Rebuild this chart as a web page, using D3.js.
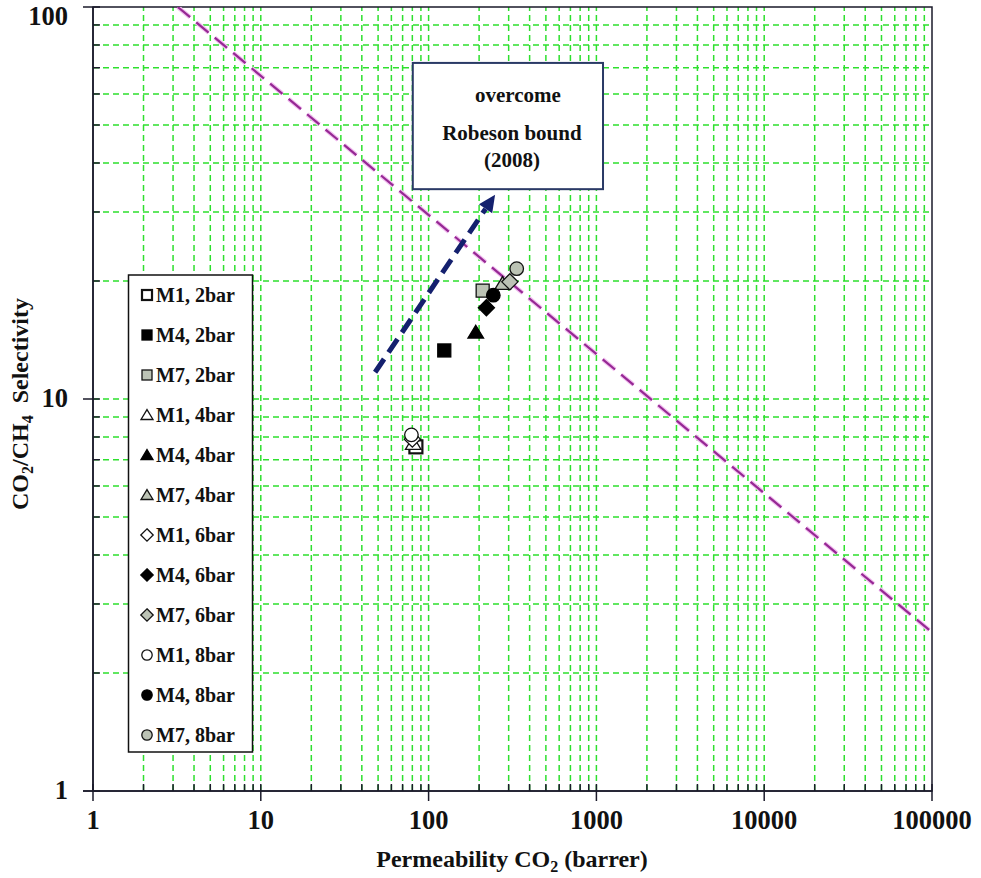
<!DOCTYPE html>
<html><head><meta charset="utf-8">
<script src="https://cdn.jsdelivr.net/npm/d3@7"></script>
<style>
html,body{margin:0;padding:0;background:#fff;}
text{font-family:"Liberation Serif","Times New Roman",serif;font-weight:bold;fill:#111;}
</style></head>
<body>
<svg id="c" width="981" height="878"></svg>
<script>
// ---- data ----
const seriesNames = ["M1, 2bar","M4, 2bar","M7, 2bar","M1, 4bar","M4, 4bar","M7, 4bar","M1, 6bar","M4, 6bar","M7, 6bar","M1, 8bar","M4, 8bar","M7, 8bar"];
const seriesShapes = ["square","square","square","triangle","triangle","triangle","diamond","diamond","diamond","circle","circle","circle"];
const seriesFills = ["open","black","gray","open","black","gray","open","black","gray","open","black","gray"];
const permeability = [84, 124, 210, 81, 191, 276, 80, 221, 305, 79, 243, 335];
const selectivity = [7.55, 13.3, 18.9, 7.7, 14.8, 19.7, 7.9, 17.1, 19.9, 8.1, 18.4, 21.5];
const robesonP = [3.2, 100000];
const robesonS = [100, 2.54];
const arrowP = [48, 249];
const arrowS = [11.7, 33.2];
const xTicks = [1, 10, 100, 1000, 10000, 100000];
const yTicks = [1, 10, 100];
const boxP = [80.5, 1095];
const boxS = [72, 34.3];
const boxLines = ["overcome", "Robeson bound", "(2008)"];

const svg = d3.select("#c");
const L = 93, R = 932, T = 7, B = 791;
const x = d3.scaleLog().domain([1, 1e5]).range([L, R]);
const y = d3.scaleLog().domain([1, 100]).range([B, T]);

// grid
const xMinor = [], yMinor = [];
for (let d = 1; d < 1e5; d *= 10) for (let k = 1; k <= 9; k++) xMinor.push(d * k);
for (let d = 1; d < 100; d *= 10) for (let k = 1; k <= 9; k++) yMinor.push(d * k);
const grid = svg.append("g").attr("stroke", "#2ee02e").attr("stroke-width", 1.5).attr("stroke-dasharray", "6,4");
grid.selectAll(".gx").data(xMinor.filter(v => v > 1)).join("line")
  .attr("x1", d => x(d)).attr("x2", d => x(d)).attr("y1", B).attr("y2", T);
grid.selectAll(".gy").data(yMinor.filter(v => v > 1)).join("line")
  .attr("y1", d => y(d)).attr("y2", d => y(d)).attr("x1", L).attr("x2", R);

// frame
svg.append("rect").attr("x", L).attr("y", T).attr("width", R - L).attr("height", B - T)
  .attr("fill", "none").attr("stroke", "#1a1a2a").attr("stroke-width", 1.5);

// axes
const gx = svg.append("g");
gx.selectAll("line").data(xMinor.concat([1e5])).join("line")
  .attr("x1", d => x(d)).attr("x2", d => x(d))
  .attr("y1", d => xTicks.includes(d) ? B + 10 : B)
  .attr("y2", B - 7)
  .attr("stroke", "#1a1a2a").attr("stroke-width", 1.5);
svg.append("line").attr("x1", L - 10).attr("x2", R).attr("y1", B).attr("y2", B).attr("stroke", "#1a1a2a").attr("stroke-width", 1.5);
gx.selectAll("text").data(xTicks).join("text")
  .attr("x", d => x(d)).attr("y", 829).attr("text-anchor", "middle")
  .attr("font-size", 26.5).text(d => d3.format("d")(d));

const gy = svg.append("g");
gy.selectAll("line").data(yMinor.concat([100])).join("line")
  .attr("y1", d => y(d)).attr("y2", d => y(d))
  .attr("x1", d => yTicks.includes(d) ? L - 10 : L)
  .attr("x2", L + 7)
  .attr("stroke", "#1a1a2a").attr("stroke-width", 1.5);
svg.append("line").attr("x1", L).attr("x2", L).attr("y1", T).attr("y2", B).attr("stroke", "#1a1a2a").attr("stroke-width", 1.5);
gy.selectAll("text").data(yTicks).join("text")
  .attr("x", 68).attr("y", d => Math.max(y(d) + 8, 25)).attr("text-anchor", "end")
  .attr("font-size", 26.5).text(d => d);

// axis titles
const xt = svg.append("text").attr("x", 512).attr("y", 867).attr("text-anchor", "middle").attr("font-size", 24);
xt.append("tspan").text("Permeability CO");
xt.append("tspan").attr("font-size", 16).attr("dy", 5).text("2");
xt.append("tspan").attr("dy", -5).text(" (barrer)");

const yt = svg.append("text").attr("transform", "translate(28,404) rotate(-90)").attr("text-anchor", "middle").attr("font-size", 24);
yt.append("tspan").text("CO");
yt.append("tspan").attr("font-size", 16).attr("dy", 5).text("2");
yt.append("tspan").attr("dy", -5).text("/CH");
yt.append("tspan").attr("font-size", 16).attr("dy", 5).text("4");
yt.append("tspan").attr("dy", -5).text("\u00a0\u00a0Selectivity");

// clip
svg.append("clipPath").attr("id", "pc").append("rect").attr("x", L).attr("y", T).attr("width", R - L).attr("height", B - T);

// Robeson line
const rl = d3.line().x(d => x(d[0])).y(d => y(d[1]));
svg.append("path").attr("clip-path", "url(#pc)")
  .attr("d", rl(d3.zip(robesonP, robesonS)))
  .attr("stroke", "#f2c0f0").attr("stroke-width", 4.5).attr("fill", "none").attr("stroke-dasharray", "16,8");
svg.append("path").attr("clip-path", "url(#pc)")
  .attr("d", rl(d3.zip(robesonP, robesonS)))
  .attr("stroke", "#962894").attr("stroke-width", 2.2).attr("fill", "none").attr("stroke-dasharray", "16,8");

// arrow
const ax0 = x(arrowP[0]), ay0 = y(arrowS[0]), ax1 = x(arrowP[1]), ay1 = y(arrowS[1]);
const ang = Math.atan2(ay1 - ay0, ax1 - ax0);
const hl = 17, hw = 8;
const bx = ax1 - hl * Math.cos(ang), by = ay1 - hl * Math.sin(ang);
svg.append("line").attr("x1", ax0).attr("y1", ay0).attr("x2", bx).attr("y2", by)
  .attr("stroke", "#14206e").attr("stroke-width", 5).attr("stroke-dasharray", "16,8");
svg.append("path").attr("d", `M${ax1},${ay1} L${bx - hw * Math.sin(ang)},${by + hw * Math.cos(ang)} L${bx + hw * Math.sin(ang)},${by - hw * Math.cos(ang)} Z`)
  .attr("fill", "#14206e");

// annotation box
const bx0 = x(boxP[0]), bx1 = x(boxP[1]), by0 = y(boxS[0]), by1 = y(boxS[1]);
svg.append("rect").attr("x", bx0).attr("y", by0).attr("width", bx1 - bx0).attr("height", by1 - by0)
  .attr("fill", "#fff").attr("stroke", "#2a3a66").attr("stroke-width", 2);
const bcx = (bx0 + bx1) / 2 + 4;
svg.append("text").attr("x", bcx + 6).attr("y", by0 + 39).attr("text-anchor", "middle").attr("font-size", 21).text(boxLines[0]);
svg.append("text").attr("x", bcx).attr("y", by0 + 77).attr("text-anchor", "middle").attr("font-size", 21).text(boxLines[1]);
svg.append("text").attr("x", bcx).attr("y", by0 + 104).attr("text-anchor", "middle").attr("font-size", 21).text(boxLines[2]);

// markers
const grayFill = "#bcc3b5";
function fillOf(f) { return f === "open" ? "#fff" : f === "black" ? "#000" : grayFill; }
function drawMarker(g, shape, fill, s) {
  const fc = fillOf(fill);
  const st = fill === "black" ? "#000" : "#111";
  if (shape === "square") {
    g.append("rect").attr("x", -s / 2).attr("y", -s / 2).attr("width", s).attr("height", s)
      .attr("fill", fc).attr("stroke", st).attr("stroke-width", fill === "open" ? 2.2 : 1.3);
  } else if (shape === "triangle") {
    const h = s * 0.9;
    g.append("path").attr("d", `M0,${-h * 0.6} L${s * 0.6},${h * 0.5} L${-s * 0.6},${h * 0.5} Z`)
      .attr("fill", fc).attr("stroke", st).attr("stroke-width", 1.3);
  } else if (shape === "diamond") {
    const r = s * 0.62;
    g.append("path").attr("d", `M0,${-r} L${r},0 L0,${r} L${-r},0 Z`)
      .attr("fill", fc).attr("stroke", st).attr("stroke-width", 1.3);
  } else {
    g.append("circle").attr("r", s * 0.52).attr("fill", fc).attr("stroke", st).attr("stroke-width", 1.3);
  }
}
const pts = svg.append("g");
seriesNames.forEach((n, i) => {
  const g = pts.append("g").attr("transform", `translate(${x(permeability[i])},${y(selectivity[i])})`);
  drawMarker(g, seriesShapes[i], seriesFills[i], 13);
});

// legend
const lg = svg.append("g");
lg.append("rect").attr("x", 128.5).attr("y", 275).attr("width", 124).attr("height", 477)
  .attr("fill", "#fff").attr("stroke", "#111").attr("stroke-width", 1.5);
seriesNames.forEach((n, i) => {
  const cy = 295 + i * 40;
  const g = lg.append("g").attr("transform", `translate(147,${cy})`);
  drawMarker(g, seriesShapes[i], seriesFills[i], 10);
  lg.append("text").attr("x", 156).attr("y", cy + 7).attr("font-size", 20).text(n);
});
</script>
</body></html>
